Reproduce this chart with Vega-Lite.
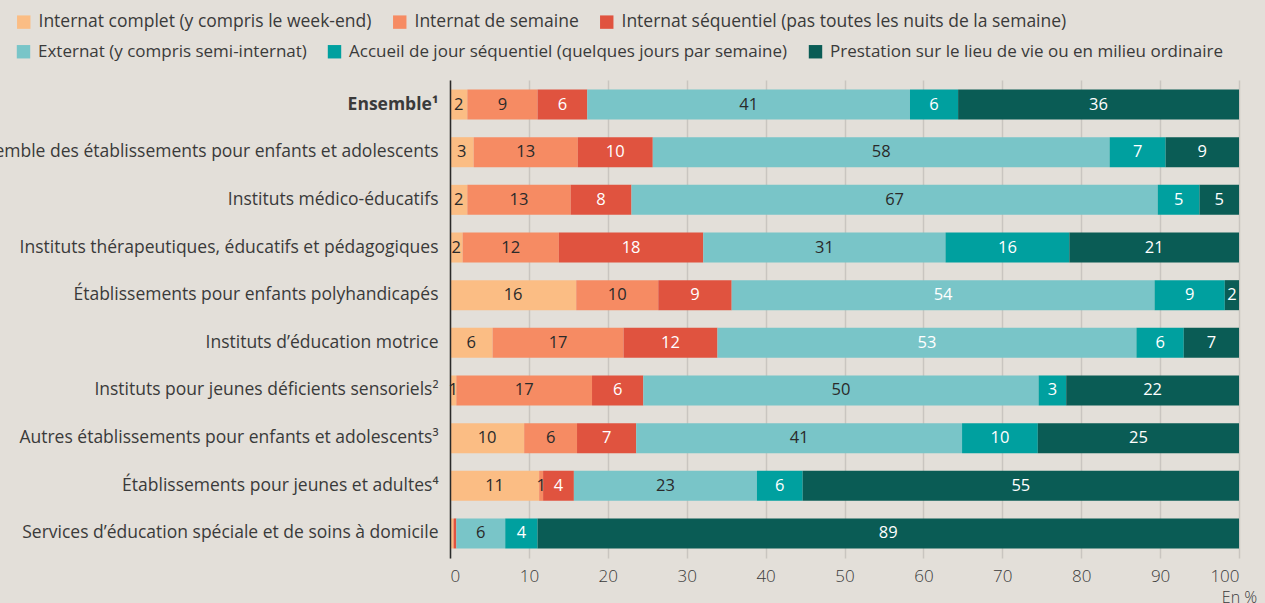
{
  "$schema": "https://vega.github.io/schema/vega-lite/v6.json",
  "width": 789,
  "height": 478,
  "autosize": {"type": "none"},
  "padding": {"left": 450, "top": 80, "right": 26, "bottom": 45},
  "background": "#e3dfd9",
  "config": {
    "view": {"stroke": null},
    "font": "Open Sans",
    "axis": {"labelFont": "Open Sans", "titleFont": "Open Sans"},
    "legend": {"labelFont": "Open Sans"}
  },
  "data": {
    "values": [
      {"cat": "Ensemble¹", "serie": "Internat complet (y compris le week-end)", "value": 2.2, "label": "2"},
      {"cat": "Ensemble¹", "serie": "Internat de semaine", "value": 8.9, "label": "9"},
      {"cat": "Ensemble¹", "serie": "Internat séquentiel (pas toutes les nuits de la semaine)", "value": 6.3, "label": "6"},
      {"cat": "Ensemble¹", "serie": "Externat (y compris semi-internat)", "value": 40.9, "label": "41"},
      {"cat": "Ensemble¹", "serie": "Accueil de jour séquentiel (quelques jours par semaine)", "value": 6.1, "label": "6"},
      {"cat": "Ensemble¹", "serie": "Prestation sur le lieu de vie ou en milieu ordinaire", "value": 35.6, "label": "36"},

      {"cat": "Ensemble des établissements pour enfants et adolescents", "serie": "Internat complet (y compris le week-end)", "value": 3.0, "label": "3"},
      {"cat": "Ensemble des établissements pour enfants et adolescents", "serie": "Internat de semaine", "value": 13.2, "label": "13"},
      {"cat": "Ensemble des établissements pour enfants et adolescents", "serie": "Internat séquentiel (pas toutes les nuits de la semaine)", "value": 9.5, "label": "10"},
      {"cat": "Ensemble des établissements pour enfants et adolescents", "serie": "Externat (y compris semi-internat)", "value": 57.9, "label": "58"},
      {"cat": "Ensemble des établissements pour enfants et adolescents", "serie": "Accueil de jour séquentiel (quelques jours par semaine)", "value": 7.1, "label": "7"},
      {"cat": "Ensemble des établissements pour enfants et adolescents", "serie": "Prestation sur le lieu de vie ou en milieu ordinaire", "value": 9.3, "label": "9"},

      {"cat": "Instituts médico-éducatifs", "serie": "Internat complet (y compris le week-end)", "value": 2.2, "label": "2"},
      {"cat": "Instituts médico-éducatifs", "serie": "Internat de semaine", "value": 13.1, "label": "13"},
      {"cat": "Instituts médico-éducatifs", "serie": "Internat séquentiel (pas toutes les nuits de la semaine)", "value": 7.7, "label": "8"},
      {"cat": "Instituts médico-éducatifs", "serie": "Externat (y compris semi-internat)", "value": 66.7, "label": "67"},
      {"cat": "Instituts médico-éducatifs", "serie": "Accueil de jour séquentiel (quelques jours par semaine)", "value": 5.3, "label": "5"},
      {"cat": "Instituts médico-éducatifs", "serie": "Prestation sur le lieu de vie ou en milieu ordinaire", "value": 5.0, "label": "5"},

      {"cat": "Instituts thérapeutiques, éducatifs et pédagogiques", "serie": "Internat complet (y compris le week-end)", "value": 1.6, "label": "2"},
      {"cat": "Instituts thérapeutiques, éducatifs et pédagogiques", "serie": "Internat de semaine", "value": 12.2, "label": "12"},
      {"cat": "Instituts thérapeutiques, éducatifs et pédagogiques", "serie": "Internat séquentiel (pas toutes les nuits de la semaine)", "value": 18.3, "label": "18"},
      {"cat": "Instituts thérapeutiques, éducatifs et pédagogiques", "serie": "Externat (y compris semi-internat)", "value": 30.7, "label": "31"},
      {"cat": "Instituts thérapeutiques, éducatifs et pédagogiques", "serie": "Accueil de jour séquentiel (quelques jours par semaine)", "value": 15.7, "label": "16"},
      {"cat": "Instituts thérapeutiques, éducatifs et pédagogiques", "serie": "Prestation sur le lieu de vie ou en milieu ordinaire", "value": 21.5, "label": "21"},

      {"cat": "Établissements pour enfants polyhandicapés", "serie": "Internat complet (y compris le week-end)", "value": 16.0, "label": "16"},
      {"cat": "Établissements pour enfants polyhandicapés", "serie": "Internat de semaine", "value": 10.4, "label": "10"},
      {"cat": "Établissements pour enfants polyhandicapés", "serie": "Internat séquentiel (pas toutes les nuits de la semaine)", "value": 9.3, "label": "9"},
      {"cat": "Établissements pour enfants polyhandicapés", "serie": "Externat (y compris semi-internat)", "value": 53.6, "label": "54"},
      {"cat": "Établissements pour enfants polyhandicapés", "serie": "Accueil de jour séquentiel (quelques jours par semaine)", "value": 8.9, "label": "9"},
      {"cat": "Établissements pour enfants polyhandicapés", "serie": "Prestation sur le lieu de vie ou en milieu ordinaire", "value": 1.8, "label": "2"},

      {"cat": "Instituts d’éducation motrice", "serie": "Internat complet (y compris le week-end)", "value": 5.4, "label": "6"},
      {"cat": "Instituts d’éducation motrice", "serie": "Internat de semaine", "value": 16.6, "label": "17"},
      {"cat": "Instituts d’éducation motrice", "serie": "Internat séquentiel (pas toutes les nuits de la semaine)", "value": 11.9, "label": "12"},
      {"cat": "Instituts d’éducation motrice", "serie": "Externat (y compris semi-internat)", "value": 53.1, "label": "53"},
      {"cat": "Instituts d’éducation motrice", "serie": "Accueil de jour séquentiel (quelques jours par semaine)", "value": 6.0, "label": "6"},
      {"cat": "Instituts d’éducation motrice", "serie": "Prestation sur le lieu de vie ou en milieu ordinaire", "value": 7.0, "label": "7"},

      {"cat": "Instituts pour jeunes déficients sensoriels²", "serie": "Internat complet (y compris le week-end)", "value": 0.8, "label": "1"},
      {"cat": "Instituts pour jeunes déficients sensoriels²", "serie": "Internat de semaine", "value": 17.2, "label": "17"},
      {"cat": "Instituts pour jeunes déficients sensoriels²", "serie": "Internat séquentiel (pas toutes les nuits de la semaine)", "value": 6.5, "label": "6"},
      {"cat": "Instituts pour jeunes déficients sensoriels²", "serie": "Externat (y compris semi-internat)", "value": 50.1, "label": "50"},
      {"cat": "Instituts pour jeunes déficients sensoriels²", "serie": "Accueil de jour séquentiel (quelques jours par semaine)", "value": 3.5, "label": "3"},
      {"cat": "Instituts pour jeunes déficients sensoriels²", "serie": "Prestation sur le lieu de vie ou en milieu ordinaire", "value": 21.9, "label": "22"},

      {"cat": "Autres établissements pour enfants et adolescents³", "serie": "Internat complet (y compris le week-end)", "value": 9.4, "label": "10"},
      {"cat": "Autres établissements pour enfants et adolescents³", "serie": "Internat de semaine", "value": 6.7, "label": "6"},
      {"cat": "Autres établissements pour enfants et adolescents³", "serie": "Internat séquentiel (pas toutes les nuits de la semaine)", "value": 7.5, "label": "7"},
      {"cat": "Autres établissements pour enfants et adolescents³", "serie": "Externat (y compris semi-internat)", "value": 41.3, "label": "41"},
      {"cat": "Autres établissements pour enfants et adolescents³", "serie": "Accueil de jour séquentiel (quelques jours par semaine)", "value": 9.6, "label": "10"},
      {"cat": "Autres établissements pour enfants et adolescents³", "serie": "Prestation sur le lieu de vie ou en milieu ordinaire", "value": 25.5, "label": "25"},

      {"cat": "Établissements pour jeunes et adultes⁴", "serie": "Internat complet (y compris le week-end)", "value": 11.3, "label": "11"},
      {"cat": "Établissements pour jeunes et adultes⁴", "serie": "Internat de semaine", "value": 0.5, "label": "1"},
      {"cat": "Établissements pour jeunes et adultes⁴", "serie": "Internat séquentiel (pas toutes les nuits de la semaine)", "value": 3.9, "label": "4"},
      {"cat": "Établissements pour jeunes et adultes⁴", "serie": "Externat (y compris semi-internat)", "value": 23.2, "label": "23"},
      {"cat": "Établissements pour jeunes et adultes⁴", "serie": "Accueil de jour séquentiel (quelques jours par semaine)", "value": 5.8, "label": "6"},
      {"cat": "Établissements pour jeunes et adultes⁴", "serie": "Prestation sur le lieu de vie ou en milieu ordinaire", "value": 55.3, "label": "55"},

      {"cat": "Services d’éducation spéciale et de soins à domicile", "serie": "Internat complet (y compris le week-end)", "value": 0.4, "label": ""},
      {"cat": "Services d’éducation spéciale et de soins à domicile", "serie": "Internat de semaine", "value": 0.1, "label": ""},
      {"cat": "Services d’éducation spéciale et de soins à domicile", "serie": "Internat séquentiel (pas toutes les nuits de la semaine)", "value": 0.3, "label": ""},
      {"cat": "Services d’éducation spéciale et de soins à domicile", "serie": "Externat (y compris semi-internat)", "value": 6.2, "label": "6"},
      {"cat": "Services d’éducation spéciale et de soins à domicile", "serie": "Accueil de jour séquentiel (quelques jours par semaine)", "value": 4.1, "label": "4"},
      {"cat": "Services d’éducation spéciale et de soins à domicile", "serie": "Prestation sur le lieu de vie ou en milieu ordinaire", "value": 88.9, "label": "89"}
    ]
  },
  "transform": [
    {"calculate": "indexof(['Internat complet (y compris le week-end)','Internat de semaine','Internat séquentiel (pas toutes les nuits de la semaine)','Externat (y compris semi-internat)','Accueil de jour séquentiel (quelques jours par semaine)','Prestation sur le lieu de vie ou en milieu ordinaire'], datum.serie)", "as": "idx"},
    {"stack": "value", "groupby": ["cat"], "sort": [{"field": "idx", "order": "ascending"}], "as": ["x0", "x1"]},
    {"calculate": "(datum.x0 + datum.x1) / 2", "as": "mid"}
  ],
  "encoding": {
    "y": {
      "field": "cat",
      "type": "nominal",
      "sort": ["Ensemble¹", "Ensemble des établissements pour enfants et adolescents", "Instituts médico-éducatifs", "Instituts thérapeutiques, éducatifs et pédagogiques", "Établissements pour enfants polyhandicapés", "Instituts d’éducation motrice", "Instituts pour jeunes déficients sensoriels²", "Autres établissements pour enfants et adolescents³", "Établissements pour jeunes et adultes⁴", "Services d’éducation spéciale et de soins à domicile"],
      "scale": {"paddingInner": 0.37, "paddingOuter": 0.2},
      "axis": {
        "title": null,
        "ticks": false,
        "domain": true,
        "domainColor": "#2a2a2a",
        "domainWidth": 1.5,
        "labelPadding": 12,
        "labelFontSize": 17.5,
        "labelColor": "#3a3a3a",
        "labelLimit": 800,
        "labelFontWeight": {"condition": {"test": "datum.value == 'Ensemble¹'", "value": "bold"}, "value": "normal"},
        "zindex": 2
      }
    },
    "x": {
      "field": "x0",
      "type": "quantitative",
      "scale": {"domain": [0, 100], "nice": false},
      "axis": {
        "values": [0, 10, 20, 30, 40, 50, 60, 70, 80, 90, 100],
        "grid": true,
        "gridColor": "#c9c5c0",
        "gridWidth": 1.5,
        "domain": false,
        "ticks": false,
        "labelPadding": 10,
        "labelFontSize": 17,
        "labelFontWeight": 300,
        "labelColor": "#3a3a3a",
        "title": "En %",
        "titleFontSize": 16,
        "titleFontWeight": 300,
        "titleColor": "#3a3a3a",
        "titleAnchor": "end",
        "titleAlign": "center",
        "titleX": 789,
        "titleY": 44,
        "titleBaseline": "alphabetic"
      }
    },
    "x2": {"field": "x1"}
  },
  "layer": [
    {
      "transform": [{"filter": "datum.idx < 3"}],
      "mark": {"type": "bar"},
      "encoding": {
        "color": {
          "field": "serie",
          "type": "nominal",
          "sort": ["Internat complet (y compris le week-end)", "Internat de semaine", "Internat séquentiel (pas toutes les nuits de la semaine)"],
          "scale": {
            "domain": ["Internat complet (y compris le week-end)", "Internat de semaine", "Internat séquentiel (pas toutes les nuits de la semaine)"],
            "range": ["#fbbd84", "#f68b63", "#e0533f"]
          },
          "legend": {
            "title": null,
            "orient": "none",
            "legendX": -435,
            "legendY": -67,
            "direction": "horizontal",
            "symbolType": "square",
            "symbolSize": 180,
            "symbolStrokeWidth": 0,
            "symbolOpacity": 1,
            "labelFontSize": 17.5,
            "labelColor": "#3a3a3a",
            "labelOffset": 6,
            "labelLimit": 700,
            "columnPadding": 19
          }
        }
      }
    },
    {
      "transform": [{"filter": "datum.idx >= 3"}],
      "mark": {"type": "bar"},
      "encoding": {
        "fill": {
          "field": "serie",
          "type": "nominal",
          "sort": ["Externat (y compris semi-internat)", "Accueil de jour séquentiel (quelques jours par semaine)", "Prestation sur le lieu de vie ou en milieu ordinaire"],
          "scale": {
            "domain": ["Externat (y compris semi-internat)", "Accueil de jour séquentiel (quelques jours par semaine)", "Prestation sur le lieu de vie ou en milieu ordinaire"],
            "range": ["#79c5c8", "#00a09f", "#0a5c55"]
          },
          "legend": {
            "title": null,
            "orient": "none",
            "legendX": -435,
            "legendY": -37,
            "direction": "horizontal",
            "symbolType": "square",
            "symbolSize": 180,
            "symbolStrokeWidth": 0,
            "symbolOpacity": 1,
            "labelFontSize": 17,
            "labelColor": "#3a3a3a",
            "labelOffset": 6,
            "labelLimit": 700,
            "columnPadding": 19
          }
        }
      }
    },
    {
      "transform": [{"filter": "datum.label != ''"}],
      "mark": {"type": "text", "fontSize": 16.5, "fontWeight": 500, "font": "Open Sans", "baseline": "middle", "align": "center"},
      "encoding": {
        "x": {"field": "mid", "type": "quantitative"},
        "x2": null,
        "text": {"field": "label"},
        "color": {
          "condition": {
            "test": "datum.idx == 2 || datum.idx >= 4 || (datum.idx == 3 && (datum.cat == 'Établissements pour enfants polyhandicapés' || datum.cat == 'Instituts d’éducation motrice'))",
            "value": "#ffffff"
          },
          "value": "#2a2a2a"
        }
      }
    }
  ]
}
